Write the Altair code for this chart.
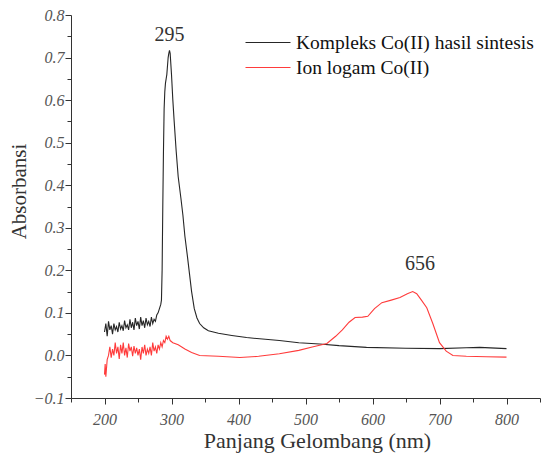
import altair as alt
import pandas as pd

# Kompleks Co(II) hasil sintesis (black)
k_nm = [200, 202, 204, 206, 208, 210, 212, 214, 216, 218, 220, 222, 224, 226, 228, 230,
        232, 234, 236, 238, 240, 242, 244, 246, 248, 250, 252, 254, 256, 258, 260, 262,
        264, 266, 268, 270, 272, 274, 276, 278, 280, 282, 284, 285, 286, 287, 288, 289,
        290, 291, 292, 293, 294, 295, 296, 297, 298, 300, 302, 304, 307, 310, 314, 317,
        320, 324, 327, 330, 334, 338, 342, 348, 355, 370, 390, 412, 440, 461, 490, 521,
        550, 591, 650, 700, 740, 760, 800]
k_abs = [0.055, 0.075, 0.045, 0.08, 0.06, 0.07, 0.05, 0.075, 0.06, 0.068, 0.055, 0.078,
         0.062, 0.07, 0.058, 0.082, 0.065, 0.072, 0.06, 0.085, 0.065, 0.078, 0.06, 0.088,
         0.07, 0.08, 0.062, 0.09, 0.07, 0.082, 0.065, 0.088, 0.072, 0.08, 0.068, 0.09,
         0.075, 0.085, 0.08, 0.095, 0.10, 0.11, 0.12, 0.13, 0.20, 0.35, 0.48, 0.58,
         0.62, 0.64, 0.65, 0.66, 0.68, 0.70, 0.71, 0.717, 0.71, 0.66, 0.60, 0.55, 0.48,
         0.42, 0.37, 0.33, 0.28, 0.23, 0.19, 0.15, 0.11, 0.088, 0.075, 0.065, 0.058,
         0.052, 0.047, 0.042, 0.038, 0.035, 0.030, 0.027, 0.023, 0.019, 0.017, 0.016,
         0.018, 0.019, 0.016]

# Ion logam Co(II) (red)
i_nm = [200, 201, 202, 204, 206, 208, 210, 212, 214, 216, 218, 220, 222, 224, 226, 228,
        230, 232, 234, 236, 238, 240, 242, 244, 246, 248, 250, 252, 254, 256, 258, 260,
        262, 264, 266, 268, 270, 272, 274, 276, 278, 280, 282, 284, 286, 288, 290, 292,
        294, 296, 298, 302, 310, 320, 330, 342, 370, 402, 430, 461, 490, 510, 532, 545,
        555, 565, 574, 585, 593, 603, 614, 628, 641, 652, 660, 666, 673, 681, 690, 700,
        710, 720, 740, 770, 800]
i_abs = [-0.045, -0.02, -0.05, -0.01, 0.0, 0.02, -0.005, 0.015, 0.0, 0.03, 0.005, 0.02,
         -0.008, 0.025, 0.005, 0.03, 0.0, 0.018, -0.005, 0.028, 0.01, 0.02, -0.002, 0.022,
         0.005, 0.018, 0.0, 0.015, -0.01, 0.02, 0.005, 0.025, 0.0, 0.015, 0.005, 0.02,
         0.0, 0.03, 0.01, 0.02, 0.005, 0.025, 0.015, 0.03, 0.02, 0.035, 0.03, 0.045,
         0.038, 0.045, 0.035, 0.03, 0.025, 0.015, 0.007, 0.0, -0.002, -0.005, -0.002,
         0.004, 0.012, 0.02, 0.028, 0.045, 0.06, 0.078, 0.089, 0.09, 0.092, 0.11, 0.124,
         0.13, 0.136, 0.145, 0.15, 0.145, 0.13, 0.112, 0.075, 0.03, 0.01, 0.0, -0.002,
         -0.003, -0.004]

series_names = ["Kompleks Co(II) hasil sintesis", "Ion logam Co(II)"]
series_colors = ["#262626", "#ff3b3b"]

ann_text = ["295", "656"]
ann_nm = [297, 671]
ann_abs = [0.752, 0.215]

x_major = [200, 300, 400, 500, 600, 700, 800]
x_minor = [150, 250, 350, 450, 550, 650, 750, 850]
y_major = [-0.1, 0.0, 0.1, 0.2, 0.3, 0.4, 0.5, 0.6, 0.7, 0.8]
y_minor = [-0.05, 0.05, 0.15, 0.25, 0.35, 0.45, 0.55, 0.65, 0.75]

df = pd.DataFrame({
    "nm": k_nm + i_nm,
    "abs": k_abs + i_abs,
    "series": [series_names[0]] * len(k_nm) + [series_names[1]] * len(i_nm),
})
ann = pd.DataFrame({"nm": ann_nm, "abs": ann_abs, "t": ann_text})

SERIF = "Liberation Serif"
xscale = alt.Scale(domain=[150, 850], nice=False, zero=False)
yscale = alt.Scale(domain=[-0.1, 0.8], nice=False, zero=False)

xaxis = alt.Axis(
    orient="bottom", values=x_major, grid=False, domainColor="#333", tickColor="#333",
    tickSize=6, format="d",
    labelFont=SERIF, labelFontStyle="italic", labelFontSize=16, labelColor="#555",
    labelPadding=7, title="Panjang Gelombang (nm)", titleFont=SERIF,
    titleFontSize=22, titleFontWeight="normal", titleColor="#333",
    titleX=246, titleY=42, titleBaseline="middle",
)
yaxis = alt.Axis(
    orient="left", values=y_major, grid=False, domainColor="#333", tickColor="#333",
    tickSize=6, format=".1f",
    labelFont=SERIF, labelFontStyle="italic", labelFontSize=16, labelColor="#555",
    labelPadding=1, title="Absorbansi", titleFont=SERIF, titleFontSize=21,
    titleFontWeight="normal", titleColor="#333", titleAngle=270,
    titleX=-52, titleY=176, titleBaseline="middle", titleAlign="center",
)
xaxis_minor = alt.Axis(orient="bottom", values=x_minor, labels=False, domain=False,
                       grid=False, tickSize=4, tickColor="#333", title=None)
yaxis_minor = alt.Axis(orient="left", values=y_minor, labels=False, domain=False,
                       grid=False, tickSize=4, tickColor="#333", title=None)

lines = alt.Chart(df).mark_line(strokeWidth=1.1).encode(
    x=alt.X("nm:Q", scale=xscale, axis=xaxis),
    y=alt.Y("abs:Q", scale=yscale, axis=yaxis),
    color=alt.Color(
        "series:N",
        scale=alt.Scale(domain=series_names, range=series_colors),
        sort=series_names,
        legend=alt.Legend(
            title=None, orient="none", legendX=174, legendY=15,
            symbolType="stroke", symbolSize=2025, symbolStrokeWidth=1,
            labelFont=SERIF, labelFontSize=19.5, labelColor="#111",
            labelOffset=5, rowPadding=0, clipHeight=25, labelLimit=400,
        ),
    ),
)

labels = alt.Chart(ann).mark_text(
    font=SERIF, fontSize=20, color="#333", baseline="middle"
).encode(
    x=alt.X("nm:Q", scale=xscale, axis=xaxis_minor),
    y=alt.Y("abs:Q", scale=yscale, axis=yaxis_minor),
    text="t:N",
)

chart = (lines + labels).resolve_axis(x="independent", y="independent").properties(
    width=469, height=383,
    autosize=alt.AutoSizeParams(type="none"),
    padding={"left": 63, "top": 7, "right": 10, "bottom": 55},
).configure_view(stroke=None)

chart.save("out.html", embed_options={"renderer": "svg", "actions": False})
